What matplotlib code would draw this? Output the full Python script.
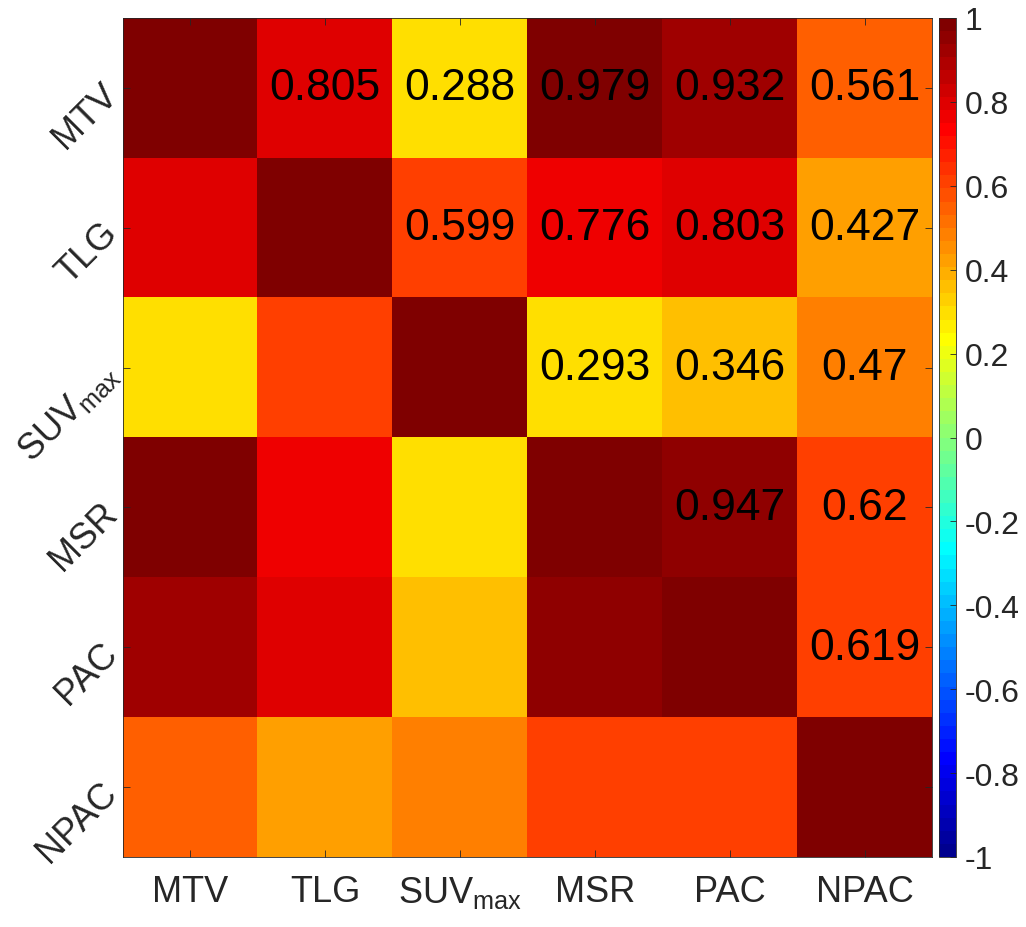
import matplotlib
matplotlib.use("Agg")
import matplotlib.pyplot as plt
import numpy as np
from matplotlib.colors import ListedColormap

plt.rcParams['font.family'] = ['Liberation Sans', 'DejaVu Sans']
plt.rcParams['mathtext.fontset'] = 'custom'
plt.rcParams['mathtext.rm'] = 'Liberation Sans'
plt.rcParams['mathtext.it'] = 'Liberation Sans'

labels = ["MTV", "TLG", "SUV$_{\\mathrm{max}}$", "MSR", "PAC", "NPAC"]
# upper triangle correlations, row by row
upper = [
    [0.805, 0.288, 0.979, 0.932, 0.561],
    [0.599, 0.776, 0.803, 0.427],
    [0.293, 0.346, 0.47],
    [0.947, 0.62],
    [0.619],
]
value_text = [
    ["0.805", "0.288", "0.979", "0.932", "0.561"],
    ["0.599", "0.776", "0.803", "0.427"],
    ["0.293", "0.346", "0.47"],
    ["0.947", "0.62"],
    ["0.619"],
]
cbar_ticks = [-1, -0.8, -0.6, -0.4, -0.2, 0, 0.2, 0.4, 0.6, 0.8, 1]
cbar_labels = ["-1", "-0.8", "-0.6", "-0.4", "-0.2", "0", "0.2", "0.4", "0.6", "0.8", "1"]

n = len(labels)
corr = np.eye(n)
for i, row in enumerate(upper):
    for k, v in enumerate(row):
        j = i + 1 + k
        corr[i, j] = v
        corr[j, i] = v


def matlab_jet(m=64):
    # same construction as MATLAB's jet(m)
    q = int(np.ceil(m / 4))
    u = np.concatenate([np.arange(1, q + 1) / q, np.ones(q - 1), np.arange(q, 0, -1) / q])
    g = int(np.ceil(q / 2)) - (1 if m % 4 == 1 else 0) + np.arange(1, len(u) + 1)
    J = np.zeros((m, 3))
    for ch, idxs in enumerate([g + q, g, g - q]):
        for idx, val in zip(idxs, u):
            if 1 <= idx <= m:
                J[idx - 1, ch] = val
    return ListedColormap(J)


fig = plt.figure(figsize=(10.26, 9.28), dpi=100)
ax = fig.add_axes([123 / 1026, 1 - 858 / 928, (932 - 123) / 1026, (858 - 19) / 928])
cax = fig.add_axes([939 / 1026, 1 - 858 / 928, (956 - 939) / 1026, (858 - 19) / 928])

im = ax.imshow(corr, cmap=matlab_jet(64), vmin=-1, vmax=1, aspect='auto',
               interpolation='nearest')

for i, row in enumerate(value_text):
    for k, s in enumerate(row):
        j = i + 1 + k
        ax.text(j, i, s, ha='center', va='center', fontsize=32, color='black')

ax.set_xticks(range(n))
ax.set_yticks(range(n))
ax.set_xticklabels(labels, fontsize=26, color='#262626')
ax.set_yticklabels(labels, fontsize=26, color='#262626', rotation=45,
                   ha='right', va='center', rotation_mode='anchor')
ax.tick_params(direction='in', length=5, width=0.6, color='#262626',
               top=True, right=True, pad=8)
ax.tick_params(axis='x', pad=12)
for sp in ax.spines.values():
    sp.set_color('#262626')
    sp.set_linewidth(0.6)

cb = fig.colorbar(im, cax=cax)
cb.set_ticks(cbar_ticks)
cb.set_ticklabels(cbar_labels)
cb.ax.tick_params(direction='in', length=4, width=0.6, color='#262626',
                  labelsize=23, labelcolor='#262626', pad=6)
cb.outline.set_edgecolor('#262626')
cb.outline.set_linewidth(0.6)

fig.savefig("out.png", dpi=100)
